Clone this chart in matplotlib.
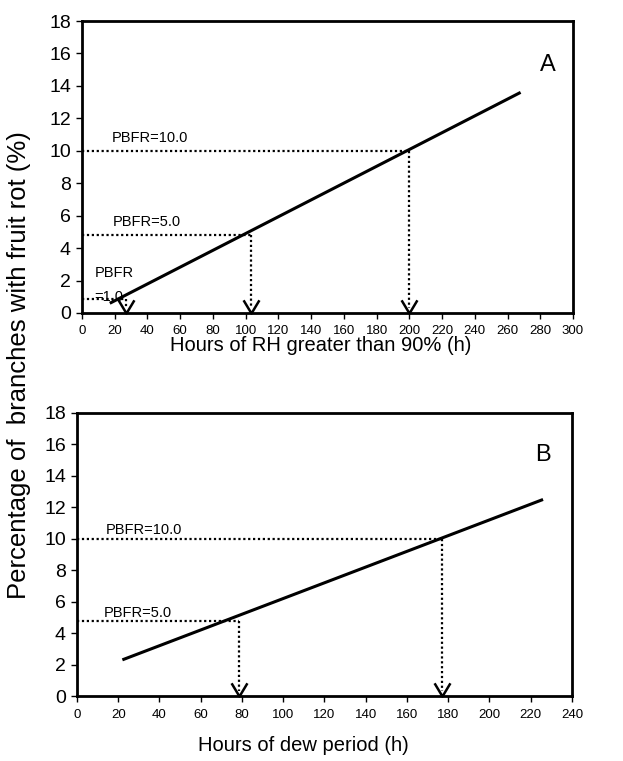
import numpy as np
import matplotlib
matplotlib.use("Agg")
import matplotlib.pyplot as plt
from matplotlib.path import Path

plt.rcParams['font.family'] = ['Liberation Sans', 'DejaVu Sans']

# panel A: hours of RH > 90%
a_line_x = [17, 268]
a_line_y = [0.6, 13.6]
a_thr_x = [27, 103, 200]
a_thr_y = [0.85, 4.8, 10.0]
a_xticks = list(range(0, 301, 20))

# panel B: hours of dew period
b_line_x = [22, 226]
b_line_y = [2.3, 12.5]
b_thr_x = [78.5, 177]
b_thr_y = [4.8, 10.0]
b_xticks = list(range(0, 241, 20))

yticks = list(range(0, 19, 2))

vee = Path([(-0.6, 1), (0, 0), (0.6, 1)], [Path.MOVETO, Path.LINETO, Path.LINETO])

fig = plt.figure(figsize=(6.23, 7.61), dpi=100)
axA = fig.add_axes([0.1316, 0.5887, 0.7881, 0.3837])
axB = fig.add_axes([0.1236, 0.0854, 0.7944, 0.3719])


def draw(ax, lx, ly, tx, ty, xticks):
    ax.plot(lx, ly, color='black', lw=2.2, solid_capstyle='butt')
    for x, y in zip(tx, ty):
        ax.plot([0, x], [y, y], color='black', lw=1.6, ls=(0, (1, 1.2)))
        ax.plot([x, x], [y, 0.3], color='black', lw=1.6, ls=(0, (1, 1.2)))
        ax.plot([x], [0], marker=vee, ms=19, mfc='none', mec='black', mew=1.8,
                clip_on=False)
    ax.set_xlim(xticks[0], xticks[-1])
    ax.set_ylim(0, 18)
    ax.set_xticks(xticks)
    ax.set_yticks(yticks)
    ax.tick_params(axis='x', labelsize=9.5, direction='out', length=4, width=1, pad=5)
    ax.tick_params(axis='y', labelsize=14, direction='out', length=4, width=1, pad=4)
    for s in ax.spines.values():
        s.set_linewidth(2)


draw(axA, a_line_x, a_line_y, a_thr_x, a_thr_y, a_xticks)
axA.text(18, 10.55, 'PBFR=10.0', fontsize=10.5)
axA.text(19, 5.35, 'PBFR=5.0', fontsize=10.5)
axA.text(7.5, 2.2, 'PBFR', fontsize=10.5)
axA.text(7.5, 0.75, '=1.0', fontsize=10.5)
axA.text(280, 15.3, 'A', fontsize=17, va='center')
axA.set_xlabel('Hours of RH greater than 90% (h)', fontsize=14.5)
axA.xaxis.set_label_coords(0.487, -0.08)

draw(axB, b_line_x, b_line_y, b_thr_x, b_thr_y, b_xticks)
axB.text(14, 10.3, 'PBFR=10.0', fontsize=10.5)
axB.text(13, 5.0, 'PBFR=5.0', fontsize=10.5)
axB.text(222, 15.3, 'B', fontsize=17, va='center')
axB.set_xlabel('Hours of dew period (h)', fontsize=14.5)
axB.xaxis.set_label_coords(0.457, -0.142)

fig.text(0.031, 0.52, 'Percentage of  branches with fruit rot (%)', rotation=90,
         fontsize=18.5, ha='center', va='center')

fig.savefig('out.png', dpi=100)
